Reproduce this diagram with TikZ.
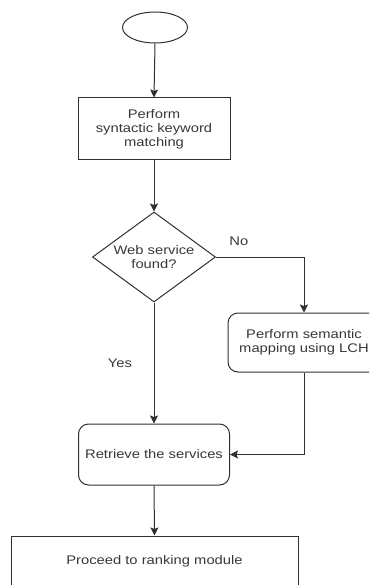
\documentclass[tikz,border=0pt]{standalone}
\usepackage{fontspec}
\setmainfont{Liberation Sans}[FakeStretch=1.18]
\usetikzlibrary{shapes.geometric,arrows.meta}
\definecolor{ink}{HTML}{303030}
\definecolor{txt}{HTML}{383838}
\begin{document}
\begin{tikzpicture}[x=1pt,y=-1pt,
  every node/.style={font=\fontsize{12.5}{14}\selectfont, text=txt},
  shapeline/.style={draw=ink, line width=1pt, inner sep=0pt},
  procbox/.style={shapeline, rectangle, align=center},
  roundbox/.style={shapeline, rectangle, rounded corners=10pt, align=center},
  decision/.style={shapeline, diamond, aspect=1.367, align=center},
  terminal/.style={shapeline, ellipse},
  flow/.style={draw=ink, line width=1pt, -{Stealth[length=8pt,width=8pt,inset=1.5pt]}},
  tag/.style={inner sep=0pt}]
  \useasboundingbox (0,0) rectangle (369,585);
  \begin{scope}
    \clip (0,0) rectangle (369,585);

    % flowchart nodes
    \node[terminal, minimum width=65, minimum height=31] (start) at (155,27.5) {};
    \node[procbox, minimum width=152, minimum height=62] (match) at (154,129)
      {Perform\\syntactic keyword\\matching};
    \node[decision, minimum width=123, minimum height=90] (found) at (154,257)
      {Web service\\found?};
    \node[roundbox, minimum width=152, minimum height=59] (semantic) at (304,342.5)
      {Perform semantic\\mapping using LCH};
    \node[roundbox, minimum width=151, minimum height=61] (retrieve) at (154,454.5)
      {Retrieve the services};
    \node[procbox, minimum width=287, minimum height=50] (rank) at (154.5,561)
      {Proceed to ranking module};

    % connectors
    \draw[flow] (start.south) -- (match.north);
    \draw[flow] (match.south) -- (found.north);
    \draw[flow] (found.east) -| node[tag, pos=0.13, yshift=16pt] {No} (semantic.north);
    \draw[flow] (found.south) -- node[tag, pos=0.5, xshift=-34pt] {Yes} (retrieve.north);
    \draw[flow] (semantic.south) |- (retrieve.east);
    \draw[flow] (retrieve.south) -- (rank.north);
  \end{scope}
\end{tikzpicture}
\end{document}
